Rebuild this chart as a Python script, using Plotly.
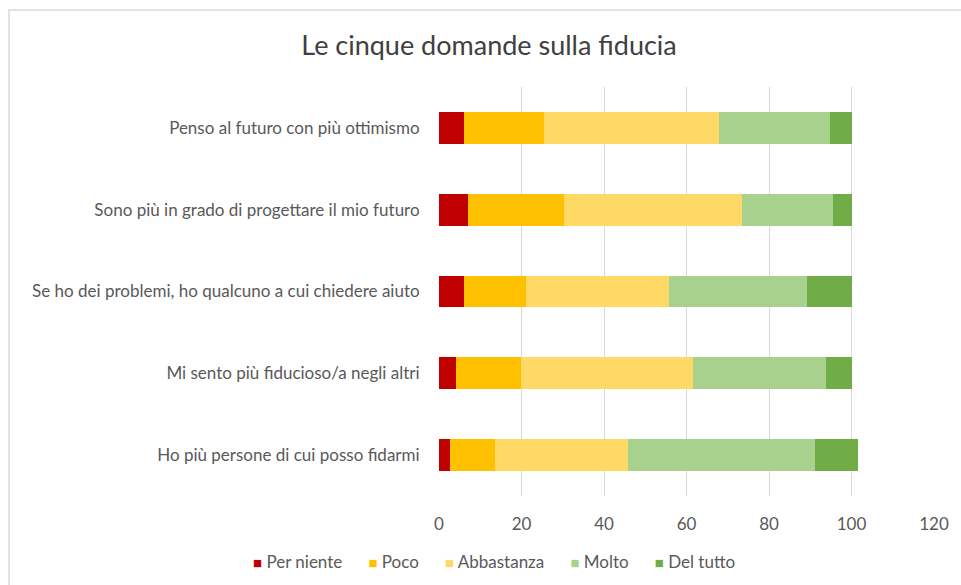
import plotly.graph_objects as go

# Survey items, listed bottom to top as plotted on the category axis
domande = [
    "Ho più persone di cui posso fidarmi",
    "Mi sento più fiducioso/a negli altri",
    "Se ho dei problemi, ho qualcuno a cui chiedere aiuto",
    "Sono più in grado di progettare il mio futuro",
    "Penso al futuro con più ottimismo",
]

# Percentages for each response level (same order as domande)
per_niente = [2.7, 4.1, 6.0, 7.0, 6.0]
poco = [10.8, 15.8, 15.0, 23.2, 19.5]
abbastanza = [32.3, 41.6, 34.8, 43.2, 42.4]
molto = [45.3, 32.3, 33.3, 22.0, 26.9]
del_tutto = [10.4, 6.2, 10.9, 4.6, 5.2]

serie = [
    ("Per niente", per_niente, "#C00000"),
    ("Poco", poco, "#FFC000"),
    ("Abbastanza", abbastanza, "#FFD966"),
    ("Molto", molto, "#A9D18E"),
    ("Del tutto", del_tutto, "#70AD47"),
]

x_ticks = [0, 20, 40, 60, 80, 100, 120]

FONT = "Lato, 'Open Sans', sans-serif"
GREY = "#595959"

fig = go.Figure()
for nome, valori, colore in serie:
    fig.add_trace(go.Bar(
        y=domande,
        x=valori,
        name=nome,
        orientation="h",
        marker=dict(color=colore, line=dict(width=0)),
        showlegend=False,
    ))

W, H = 961, 585
ml, mr, mt, mb = 439, 27, 87, 89
pw, ph = W - ml - mr, H - mt - mb

fig.update_layout(
    width=W,
    height=H,
    barmode="stack",
    bargap=0.61,
    margin=dict(l=ml, r=mr, t=mt, b=mb),
    paper_bgcolor="white",
    plot_bgcolor="white",
    font=dict(family=FONT, size=17, color=GREY),
    title=dict(
        text="Le cinque domande sulla fiducia",
        x=489 / W,
        xanchor="center",
        y=1 - 46 / H,
        yanchor="middle",
        font=dict(family=FONT, size=27, color="#404040"),
    ),
    xaxis=dict(
        range=[0, 120],
        tickvals=x_ticks,
        ticktext=[str(v) for v in x_ticks],
        showgrid=True,
        gridcolor="#D9D9D9",
        gridwidth=1,
        zeroline=False,
        showline=False,
        ticks="outside",
        ticklen=13,
        tickcolor="rgba(0,0,0,0)",
        tickfont=dict(family=FONT, size=17, color=GREY),
        fixedrange=True,
    ),
    yaxis=dict(
        categoryorder="array",
        categoryarray=domande,
        showgrid=False,
        zeroline=False,
        showline=False,
        ticks="outside",
        ticklen=15,
        tickcolor="rgba(0,0,0,0)",
        tickfont=dict(family=FONT, size=17, color=GREY),
        fixedrange=True,
    ),
    showlegend=False,
)

# Compact legend row: coloured square followed by the series name
gap = "&nbsp;" * 6
legend_text = gap.join(
    f'<span style="color:{colore};font-size:15px">■</span>&nbsp;{nome}'
    for nome, _, colore in serie
)
fig.add_annotation(
    text=legend_text,
    xref="paper", yref="paper",
    x=(494 - ml) / pw, xanchor="center",
    y=(mt + ph - 561) / ph, yanchor="middle",
    showarrow=False,
    font=dict(family=FONT, size=17, color=GREY),
)

# Light frame around the chart area
fig.add_shape(
    type="rect",
    xref="paper", yref="paper",
    x0=(9 - ml) / pw, x1=(975 - ml) / pw,
    y0=(mt + ph - 600) / ph, y1=(mt + ph - 10) / ph,
    line=dict(color="#D9D9D9", width=1.5),
    fillcolor="rgba(0,0,0,0)",
    layer="below",
)

fig.write_html("out.html")
